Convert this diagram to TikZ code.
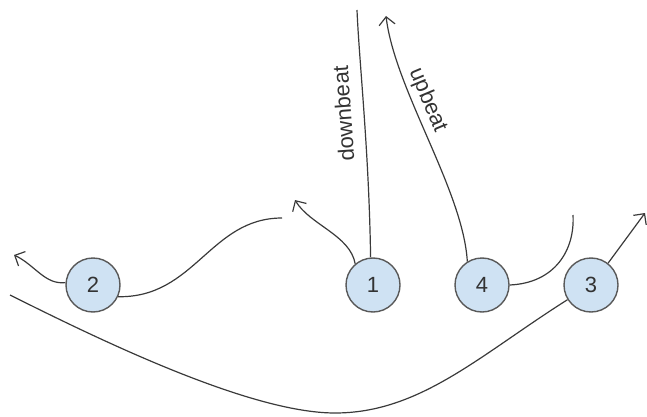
\documentclass[tikz,border=0pt]{standalone}
\usepackage{fontspec}
\setmainfont{Liberation Sans}
\usetikzlibrary{arrows.meta}
\definecolor{beatfill}{HTML}{CFE2F3}
\definecolor{beatline}{HTML}{595959}
\definecolor{wire}{HTML}{3A3A3A}
\tikzstyle{beatnode}=[
    draw=beatline,  % grey border round the beat
    circle,         % every beat is a small circle
    fill=beatfill,  % light blue inside
    line width=0.7pt,
    minimum size=27pt,
    inner sep=0pt,
    text=black!80]
\tikzstyle{beatlabel}=[
    sloped,         % text follows the curve
    above,
    inner sep=2pt,
    text=black!80]

\begin{document}
\begin{tikzpicture}[x=0.5pt, y=-0.5pt, >={Straight Barb[length=4pt,width=8pt]},
    line width=0.6pt, color=wire, font=\fontsize{11}{13}\selectfont]
        \useasboundingbox (0,0) rectangle (647,417);

        % Draw the beats.
        \node[beatnode] (n2) at (93,285) {2};
        \node[beatnode] (n1) at (373,285) {1};
        \node[beatnode] (n4) at (482,285) {4};
        \node[beatnode] (n3) at (591,285) {3};

        % Loose ends of the curves
        \coordinate (twoTip) at (14,255);
        \coordinate (twoEnd) at (282,218);
        \coordinate (oneTip) at (295,200);
        \coordinate (downTop) at (357,10);
        \coordinate (upTip) at (386,16);
        \coordinate (fourEnd) at (573,215);
        \coordinate (threeTip) at (645,213);
        \coordinate (swingLow) at (335,413);
        \coordinate (swingEnd) at (10,295);

        % Connect beats with curves
        \draw[->] (n2.175) .. controls (45,285) and (35,265) .. (twoTip);
        \draw (n2.-25) .. controls (195,298) and (210,218) .. (twoEnd);
        \draw[->] (n1.130) .. controls (350,235) and (310,225) .. (oneTip);
        \draw (n1.95) .. controls (369,150) and (359,60) .. (downTop)
            node[beatlabel, allow upside down, pos=.5, above=4pt] {downbeat};
        \draw[->] (n4.122) .. controls (463,190) and (395,90) .. (upTip)
            node[beatlabel, pos=.63] {upbeat};
        \draw (n4.east) .. controls (555,283) and (575,250) .. (fourEnd);
        \draw[->] (n3.52) -- (threeTip);
        \draw (n3.212) .. controls (480,355) and (420,413) .. (swingLow)
            .. controls (250,413) and (100,340) .. (swingEnd);
\end{tikzpicture}
\end{document}
